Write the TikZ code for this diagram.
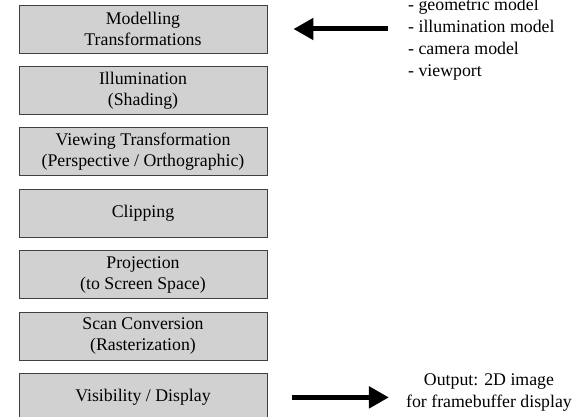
\documentclass[tikz,border=0pt]{standalone}
\usepackage{fontspec}
\setmainfont{Liberation Serif}
\usepackage{tikz}
\usetikzlibrary{positioning,calc,arrows.meta}
\tikzstyle{stage}= [rectangle, draw=black!75, fill=black!18, line width=0.9pt, minimum width=248pt, minimum height=48pt, inner sep=0pt, align=center, font=\fontsize{17.8}{21}\selectfont]
\tikzstyle{note}= [inner sep=0pt, font=\fontsize{17.8}{22}\selectfont]
\tikzstyle{bigarrow}= [line width=5pt, -{Triangle[length=20pt,width=21pt]}]

\begin{document}
\begin{tikzpicture}[x=1pt,y=1pt]
				\useasboundingbox (0,0) rectangle (584,-417);
				\node[stage] (model) at (143,-29) {Modelling\\Transformations};
				\node[stage, below=12.5pt of model] (illum) {Illumination\\(Shading)};
				\node[stage, below=12.5pt of illum] (view) {Viewing Transformation\\(Perspective / Orthographic)};
				\node[stage, below=12.5pt of view] (clip) {Clipping};
				\node[stage, below=12.5pt of clip] (proj) {Projection\\(to Screen Space)};
				\node[stage, below=12.5pt of proj] (scan) {Scan Conversion\\(Rasterization)};
				\node[stage, below=12.5pt of scan] (disp) {Visibility / Display};
				\node[note, anchor=west, align=left] (inputs) at (408,-39) {- geometric model\\- illumination model\\- camera model\\- viewport};
				\node[note, align=center] (output) at (489,-393) {Output: 2D image\\for framebuffer display};
				\draw[bigarrow, shorten <=20pt, shorten >=26pt] (model.east -| inputs.west) -- (model.east);
				\draw[bigarrow, shorten <=25pt, shorten >=17pt] (disp.east) -- (disp.east -| output.west);
			\end{tikzpicture}
\end{document}
